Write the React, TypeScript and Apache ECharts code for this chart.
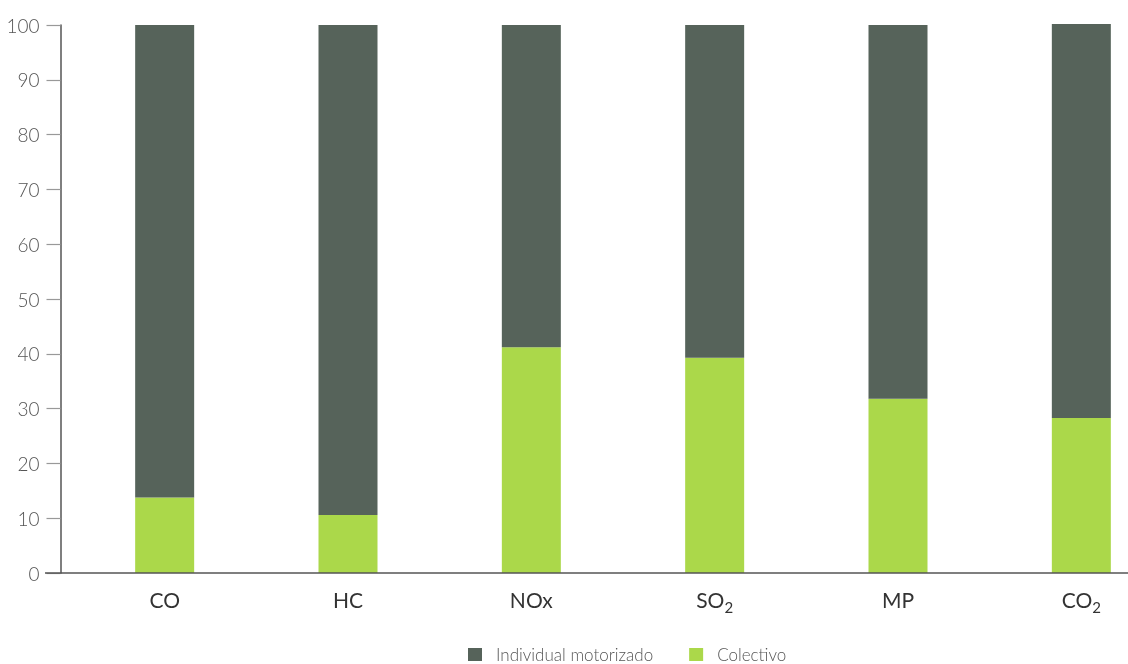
import React, { useEffect, useRef } from "react";
import * as echarts from "echarts";

const categories = ["CO", "HC", "NOx", "SO2", "MP", "CO2"];
const colectivo = [13.8, 10.6, 41.2, 39.3, 31.8, 28.3];
const individual = [86.2, 89.4, 58.8, 60.7, 68.2, 71.9];
const seriesNames = ["Individual motorizado", "Colectivo"];
const yTicks = { min: 0, max: 100, interval: 10 };

const DARK = "#56635a";
const GREEN = "#abd84a";

export default function App() {
  const ref = useRef<HTMLDivElement>(null);
  useEffect(() => {
    if (!ref.current) return;
    const chart = echarts.init(ref.current, null, { renderer: "svg" });
    chart.setOption({
      animation: false,
      textStyle: { fontFamily: "Lato" },
      grid: { left: 73, top: 25, width: 1100, height: 548, containLabel: false },
      legend: {
        left: 468,
        top: 646,
        padding: 0,
        itemWidth: 14,
        itemHeight: 13,
        itemGap: 36,
        icon: "rect",
        data: seriesNames,
        textStyle: { fontFamily: "Lato", fontWeight: 300, fontSize: 17, color: "#555", padding: [0, 0, 0, 9] },
      },
      xAxis: {
        type: "category",
        data: categories,
        axisLine: { show: false },
        axisTick: { show: false },
        axisLabel: {
          margin: 18,
          formatter: (v: string) =>
            v.endsWith("2") ? "{n|" + v.slice(0, -1) + "}{sub|2}" : "{n|" + v + "}",
          rich: {
            n: { fontSize: 21, fontFamily: "Lato", color: "#333", lineHeight: 24, padding: [0, 0, 8, 0] },
            sub: { fontSize: 15, fontFamily: "Lato", color: "#333", lineHeight: 24, padding: [8, 0, 0, 0] },
          },
        },
      },
      yAxis: {
        type: "value",
        min: yTicks.min,
        max: yTicks.max,
        interval: yTicks.interval,
        offset: 12.5,
        splitLine: { show: false },
        axisLine: { show: true, lineStyle: { color: "#555", width: 1.5 } },
        axisTick: { show: true, length: 14, lineStyle: { color: "#999", width: 1.2 } },
        axisLabel: { margin: 21, fontSize: 19, fontFamily: "Lato", fontWeight: 300, color: "#555" },
      },
      graphic: [
        {
          type: "line",
          shape: { x1: 45, y1: 573, x2: 1200, y2: 573 },
          style: { stroke: "#555", lineWidth: 1.5 },
          z: 10,
        },
      ],
      series: [
        {
          name: seriesNames[1],
          type: "bar",
          stack: "total",
          data: colectivo,
          barWidth: 59,
          clip: false,
          itemStyle: { color: GREEN },
        },
        {
          name: seriesNames[0],
          type: "bar",
          stack: "total",
          data: individual,
          barWidth: 59,
          clip: false,
          itemStyle: { color: DARK },
        },
      ],
    });
    return () => chart.dispose();
  }, []);
  return (
    <div style={{ position: "fixed", left: 0, top: 0, width: 1128, height: 664, overflow: "hidden" }}>
      <div ref={ref} style={{ width: 1200, height: 664 }} />
    </div>
  );
}
